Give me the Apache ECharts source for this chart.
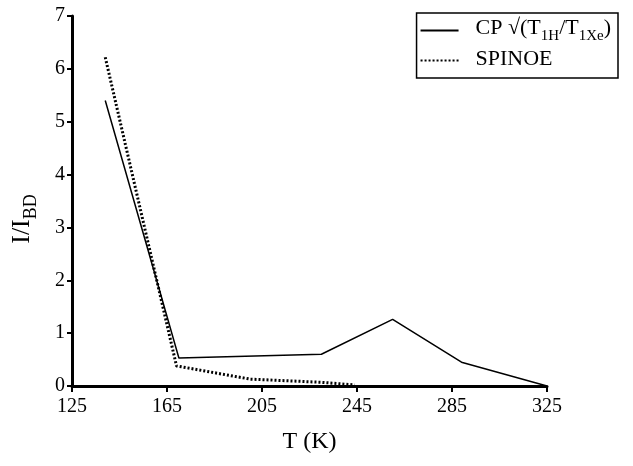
<!DOCTYPE html>
<html>
<head>
<meta charset="utf-8">
<script src="https://cdn.jsdelivr.net/npm/echarts@6/dist/echarts.min.js"></script>
<style>
  html, body { margin: 0; padding: 0; background: #fff; }
  #chart { width: 633px; height: 466px; }
</style>
</head>
<body>
<div id="chart"></div>
<script>
// temperatures (K) and intensity ratios
const cpTemps = [139, 170, 230, 260, 289, 325];
const cpValues = [5.4, 0.53, 0.6, 1.26, 0.45, 0];
const spinoeTemps = [139, 169, 200, 230, 244];
const spinoeValues = [6.22, 0.38, 0.13, 0.07, 0.02];
const xTicks = [125, 165, 205, 245, 285, 325];

const font = "'Liberation Serif', 'Times New Roman', serif";

const chart = echarts.init(document.getElementById("chart"));

chart.setOption({
  animation: false,
  textStyle: { fontFamily: font, color: "#000" },
  grid: { left: 72, right: 86, top: 16, bottom: 80, outerBoundsMode: "none" },
  legend: {
    right: 15,
    top: 13,
    orient: "vertical",
    itemWidth: 38,
    itemHeight: 10,
    itemGap: 4,
    padding: [4, 7, 8, 3],
    borderColor: "#000",
    borderWidth: 1.5,
    borderRadius: 0,
    itemStyle: { opacity: 0 },
    data: ["CP", "SPINOE"],
    formatter: (name) =>
      name === "CP"
        ? "{g|}{a|CP √(T}{s|1H}{a|/T}{s|1Xe}{a|)}"
        : "{g|}{a|SPINOE}",
    textStyle: {
      fontFamily: font,
      rich: {
        g: { width: 12 },
        a: { fontFamily: font, fontSize: 22, color: "#000", verticalAlign: "top", lineHeight: 25 },
        s: { fontFamily: font, fontSize: 15, color: "#000", verticalAlign: "bottom", lineHeight: 27 },
      },
    },
  },
  xAxis: {
    type: "value",
    min: 125,
    max: 325,
    interval: 40,
    name: "T (K)",
    nameLocation: "middle",
    nameGap: 44,
    nameTextStyle: { fontFamily: font, fontSize: 24, color: "#000" },
    axisLine: { lineStyle: { color: "#000", width: 3 } },
    axisTick: { show: true, length: 6, lineStyle: { color: "#000", width: 2 } },
    axisLabel: {
      fontFamily: font,
      fontSize: 20,
      color: "#000",
      margin: 11,
      formatter: (v) => (xTicks.includes(v) ? String(v) : ""),
    },
    splitLine: { show: false },
  },
  yAxis: {
    type: "value",
    min: 0,
    max: 7,
    interval: 1,
    name: "{a|I/I}{s|BD}",
    nameLocation: "middle",
    nameGap: 32,
    nameRotate: 90,
    nameTextStyle: {
      padding: [0, 36, 0, 0],
      rich: {
        a: { fontFamily: font, fontSize: 26, color: "#000", verticalAlign: "top", lineHeight: 28 },
        s: { fontFamily: font, fontSize: 18, color: "#000", verticalAlign: "bottom", lineHeight: 31 },
      },
    },
    axisLine: { show: true, lineStyle: { color: "#000", width: 3 } },
    axisTick: { show: true, length: 5, lineStyle: { color: "#000", width: 2 } },
    axisLabel: { fontFamily: font, fontSize: 20, color: "#000", margin: 7 },
    splitLine: { show: false },
  },
  series: [
    {
      name: "CP",
      type: "line",
      symbol: "none",
      data: cpTemps.map((t, i) => [t, cpValues[i]]),
      lineStyle: { color: "#000", width: 1.5, type: "solid" },
      itemStyle: { color: "#000" },
      z: 3,
    },
    {
      name: "SPINOE",
      type: "line",
      symbol: "none",
      data: spinoeTemps.map((t, i) => [t, spinoeValues[i]]),
      lineStyle: { color: "#000", width: 3, type: [2, 2] },
      itemStyle: { color: "#000" },
      z: 2,
    },
  ],
});
</script>
</body>
</html>
